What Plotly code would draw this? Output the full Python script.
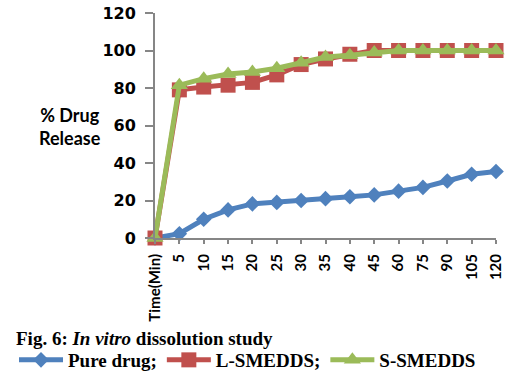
import plotly.graph_objects as go

categories = ["Time(Min)", "5", "10", "15", "20", "25", "30", "35", "40", "45", "60", "75", "90", "105", "120"]
pure_drug = [0, 2.3, 10, 15, 18.2, 19, 20, 21, 22, 23, 25, 27, 30.4, 34, 35.5]
l_smedds = [0, 79, 80.5, 81.5, 83, 87, 92.5, 95.5, 98, 100, 100, 100, 100, 100, 100]
s_smedds = [0, 81.5, 85, 87.5, 88.5, 90.5, 93.5, 96.5, 97.5, 99, 100, 100, 100, 100, 100]
y_ticks = [0, 20, 40, 60, 80, 100, 120]

series = [
    ("Pure drug;", pure_drug, "#4F81BD", "diamond", 12),
    ("L-SMEDDS;", l_smedds, "#C0504D", "square", 15),
    ("S-SMEDDS", s_smedds, "#9BBB59", "triangle-up", 15),
]

# the page body margin is removed below, so the figure fills the window
W, H = 528, 377
PL, PR, PT, PB = 155, 496, 13, 238
def px(x):
    return (x - PL) / (PR - PL)
def py(y):
    return (PB - y) / (PB - PT)

fig = go.Figure()
for name, vals, color, sym, size in series:
    fig.add_trace(go.Scatter(
        x=list(range(len(categories))), y=vals, name=name, mode="lines+markers",
        line=dict(color=color, width=5),
        marker=dict(symbol=sym, size=size, color=color),
        cliponaxis=False,
    ))

fig.update_layout(
    width=W, height=H,
    margin=dict(l=PL, r=W - PR, t=PT, b=H - PB, autoexpand=False),
    plot_bgcolor="white", paper_bgcolor="white",
    showlegend=True,
    legend=dict(orientation="h", xref="paper", yref="paper",
                x=px(14), xanchor="left", y=py(360), yanchor="middle",
                font=dict(family="Liberation Serif", size=19, color="black", weight="bold"),
                itemwidth=44, tracegroupgap=0, itemclick=False),
    xaxis=dict(
        range=[0, len(categories) - 1], automargin=False,
        tickmode="array", tickvals=list(range(len(categories))), ticktext=categories,
        tickangle=-90, showgrid=False, zeroline=False,
        showline=True, linecolor="#868686", linewidth=2,
        ticks="outside", ticklen=4, tickcolor="#868686", tickwidth=2,
        ticklabelstandoff=4, ticklabeloverflow="allow",
        tickfont=dict(family="Lato", size=15, color="black", weight="bold"),
    ),
    yaxis=dict(
        range=[0, 120], tickvals=y_ticks, showgrid=False, zeroline=False, automargin=False,
        showline=True, linecolor="#868686", linewidth=2,
        ticks="outside", ticklen=8, tickcolor="#868686", tickwidth=2,
        ticklabelstandoff=6, ticklabeloverflow="allow",
        tickfont=dict(family="DejaVu Sans", size=16, color="black", weight="bold"),
    ),
    annotations=[
        dict(text="% Drug<br>Release", xref="paper", yref="paper", x=px(70), y=py(127),
             xanchor="center", yanchor="middle", showarrow=False,
             font=dict(family="Lato", size=18, color="black", weight="bold")),
        dict(text="Fig. 6: <i>In vitro</i> dissolution study", xref="paper", yref="paper",
             x=px(14), y=py(338), xanchor="left", yanchor="middle", showarrow=False,
             font=dict(family="Liberation Serif", size=19, color="black", weight="bold")),
    ],
)

fig.write_html("out.html", config={"displayModeBar": False},
               post_script="document.body.style.margin='0px';")
